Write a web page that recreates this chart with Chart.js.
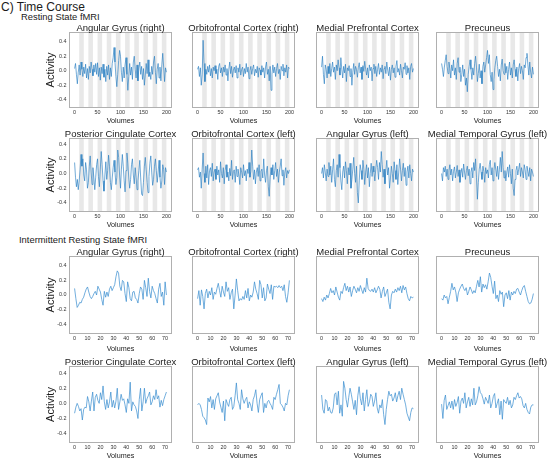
<!DOCTYPE html>
<html><head><meta charset="utf-8">
<script src="https://cdn.jsdelivr.net/npm/chart.js@4.4.0/dist/chart.umd.min.js"></script>
<style>
html,body{margin:0;padding:0;}
body{width:548px;height:459px;position:relative;background:#fff;overflow:hidden;font-family:"Liberation Sans",Arial,sans-serif;}
.hdr{position:absolute;white-space:nowrap;color:#1a1a1a;line-height:1;}
canvas{position:absolute;}
</style></head><body>
<div class="hdr" style="left:1px;top:1px;font-size:12px">C) Time Course</div>
<div class="hdr" style="left:21px;top:12px;font-size:9.4px">Resting State fMRI</div>
<div class="hdr" style="left:19px;top:235px;font-size:9.4px">Intermittent Resting State fMRI</div>
<script>
// ---------- titles & ticks ----------
const regionTitles = ['Angular Gyrus (right)', 'Orbitofrontal Cortex (right)', 'Medial Prefrontal Cortex', 'Precuneus',
  'Posterior Cingulate Cortex', 'Orbitofrontal Cortex (left)', 'Angular Gyrus (left)', 'Medial Temporal Gyrus (left)'];
const restXTicks = [0, 50, 100, 150, 200];
const intXTicks = [0, 10, 20, 30, 40, 50, 60, 70];
const yTicks = [-0.4, -0.2, 0.0, 0.2, 0.4];
const restStep = 2; // volumes between listed resting-state samples
const restBlocks = [[10,20],[30,40],[50,60],[70,80],[90,100],[110,120],[130,140],[150,160],[170,180],[190,200]];

// ---------- resting state series (volume 0..200, every 2nd volume) ----------
const restAngularRight = [
0.03,0.10,-0.05,-0.18,-0.02,0.08,-0.06,0.12,0.02,-0.08,
0.05,-0.04,0.09,-0.10,0.03,-0.12,0.06,-0.03,0.12,0.02,
-0.07,0.08,-0.02,0.10,-0.05,0.11,-0.08,0.04,-0.13,0.05,
-0.04,0.09,-0.09,0.02,-0.15,0.06,-0.06,0.08,-0.12,0.04,
-0.08,0.10,0.18,0.32,0.12,-0.08,-0.22,-0.05,0.14,0.28,
0.20,-0.02,-0.15,0.05,-0.10,0.08,0.18,-0.05,-0.27,-0.08,
0.10,-0.06,0.05,-0.12,0.12,0.20,0.02,-0.10,0.08,-0.14,
0.04,0.12,-0.05,0.06,-0.12,0.03,-0.20,-0.06,0.10,-0.04,
0.15,-0.08,-0.02,-0.12,0.06,-0.05,0.12,0.20,-0.02,-0.18,
0.02,0.10,-0.10,0.05,-0.14,0.08,0.24,0.05,-0.15,0.04,
-0.02];
const restOfcRight = [
0.02,0.06,-0.08,0.04,-0.20,-0.05,0.42,0.10,-0.15,0.02,
-0.05,0.06,-0.02,0.08,-0.07,0.03,-0.10,0.05,0.00,0.07,
-0.04,0.02,-0.12,0.06,0.10,-0.03,0.04,-0.08,0.05,-0.02,
0.08,-0.06,0.03,-0.14,0.02,0.12,-0.04,0.06,-0.09,0.01,
0.05,-0.03,0.07,-0.10,0.04,-0.02,0.09,-0.06,0.02,0.05,
-0.08,0.03,-0.04,0.10,-0.02,0.05,-0.11,0.00,0.06,-0.05,
0.03,0.08,-0.07,0.02,-0.03,0.06,-0.09,0.04,0.01,-0.06,
0.07,-0.02,0.04,-0.10,0.05,0.12,-0.05,0.02,-0.14,0.06,
-0.27,-0.05,0.08,-0.03,0.05,-0.08,0.03,0.10,-0.04,0.02,
-0.12,0.06,0.00,0.09,-0.07,0.04,-0.02,0.08,-0.10,0.05,
0.03];
const restMpfc = [
0.05,0.20,-0.05,-0.18,0.08,0.02,-0.10,0.06,-0.04,0.10,
-0.08,0.03,0.12,-0.02,0.05,-0.12,0.08,0.00,0.15,0.04,
-0.06,0.18,0.02,-0.10,0.06,-0.03,0.09,-0.15,0.04,0.00,
0.07,-0.08,0.03,-0.20,-0.02,0.10,-0.05,0.06,0.02,-0.09,
0.04,0.11,-0.03,0.05,-0.12,0.07,-0.01,0.13,0.02,-0.06,
0.04,-0.10,0.08,0.00,0.05,-0.14,0.03,0.09,-0.04,0.06,
-0.08,0.02,0.10,-0.05,0.04,-0.02,0.08,-0.11,0.03,0.06,
-0.04,0.12,0.01,-0.07,0.05,-0.13,0.02,0.08,-0.03,0.04,
-0.09,0.06,0.14,-0.02,0.03,-0.06,0.09,0.00,-0.10,0.05,
0.02,0.11,-0.05,0.07,-0.03,0.04,-0.12,0.06,0.10,-0.02,
0.03];
const restPrecuneus = [
0.10,0.02,-0.08,0.05,0.14,0.22,0.06,-0.04,0.12,0.03,
-0.10,0.08,0.00,0.15,-0.06,0.04,-0.12,0.10,0.18,-0.02,
0.05,-0.15,-0.05,0.08,-0.08,0.02,-0.20,-0.10,-0.29,-0.05,
0.06,0.15,0.02,-0.12,0.04,-0.06,0.10,0.20,0.05,-0.15,
-0.04,0.09,-0.10,0.00,-0.18,0.06,0.12,-0.02,0.08,0.18,
0.28,0.10,0.22,-0.05,-0.15,-0.02,-0.26,-0.12,0.04,0.14,
0.20,0.06,-0.08,0.02,-0.14,0.08,0.16,0.00,-0.05,0.10,
-0.03,0.06,-0.12,0.02,0.12,-0.06,0.04,-0.10,0.08,0.15,
0.02,-0.08,0.05,-0.14,0.03,0.10,-0.04,0.06,0.00,-0.12,
0.08,0.04,0.18,0.24,0.08,-0.06,0.12,-0.02,-0.10,0.05,
-0.05];
const restPcc = [
0.15,-0.05,-0.18,-0.08,-0.22,-0.10,0.05,0.26,0.10,0.20,
-0.02,-0.10,0.15,0.05,-0.20,-0.12,0.10,0.24,0.02,-0.15,
0.08,-0.06,-0.22,-0.05,0.12,0.20,-0.04,-0.18,0.06,0.30,
0.12,-0.10,-0.24,-0.02,0.16,-0.08,0.04,0.25,0.10,-0.12,
-0.22,-0.06,0.08,0.18,0.02,-0.15,-0.05,0.32,0.22,-0.02,
-0.20,0.06,0.26,0.10,-0.10,-0.25,0.04,0.28,0.14,-0.06,
-0.20,-0.08,0.12,0.20,-0.02,-0.14,0.08,-0.05,-0.22,-0.10,
0.04,0.18,-0.06,-0.28,-0.30,-0.12,0.10,0.22,0.05,-0.12,
-0.26,-0.04,0.14,0.24,0.02,-0.16,-0.08,0.10,0.20,0.04,
-0.12,0.02,0.18,-0.05,-0.20,-0.10,0.12,0.06,-0.15,0.08,
0.02];
const restOfcLeft = [
0.05,0.08,-0.05,0.02,-0.20,0.06,0.28,0.00,-0.12,0.10,
-0.06,0.12,-0.15,0.04,0.08,-0.04,0.14,-0.10,0.02,0.06,
-0.08,0.10,-0.02,0.05,-0.12,0.16,0.00,-0.06,0.08,-0.14,
0.04,0.12,-0.05,0.02,-0.10,0.07,-0.03,0.18,-0.08,0.03,
0.05,-0.12,0.10,-0.04,0.06,-0.02,-0.15,0.08,0.02,-0.06,
0.12,-0.03,0.04,-0.10,0.06,0.00,0.15,-0.05,0.03,0.32,
0.10,-0.08,0.05,-0.14,0.02,0.08,-0.04,0.12,-0.10,0.03,
0.06,-0.06,0.20,-0.02,-0.12,0.04,0.10,-0.18,-0.31,-0.05,
0.08,-0.02,0.12,-0.08,0.04,0.15,-0.04,0.06,-0.12,0.02,
0.10,0.20,-0.03,0.05,-0.16,0.02,0.08,-0.06,0.04,0.00,
0.05];
const restAngularLeft = [
0.00,0.08,-0.06,0.12,0.02,-0.10,0.06,-0.04,0.15,-0.02,
0.10,-0.12,0.05,0.20,-0.08,-0.18,0.04,0.12,-0.05,0.26,
0.08,-0.10,-0.22,0.02,0.10,-0.06,0.16,0.04,-0.14,0.08,
-0.02,0.14,-0.20,-0.08,0.06,0.22,0.00,-0.12,0.10,-0.26,
-0.40,-0.10,0.12,0.04,-0.08,0.18,0.06,-0.15,0.02,0.12,
-0.06,0.08,-0.18,0.00,0.14,-0.04,0.10,0.02,-0.10,0.06,
0.18,0.08,-0.08,0.15,0.02,0.30,0.12,-0.05,0.06,-0.14,
0.04,0.18,-0.02,0.08,-0.20,-0.06,0.10,0.00,-0.12,0.16,
0.04,-0.08,0.12,-0.15,0.02,0.20,0.06,-0.10,0.04,0.14,
-0.04,0.08,-0.16,0.02,0.10,-0.06,0.12,0.00,-0.10,0.06,
0.02];
const restMtgLeft = [
0.00,-0.10,0.08,0.02,0.10,-0.04,0.06,-0.08,0.04,0.12,
-0.02,0.06,-0.10,0.03,0.09,-0.06,0.02,0.11,-0.04,0.05,
-0.12,0.00,0.07,-0.05,0.13,0.02,-0.08,0.04,0.10,-0.03,
0.06,-0.14,0.02,0.08,-0.06,0.15,0.04,0.20,-0.05,-0.35,
-0.12,0.06,0.14,0.02,-0.08,0.10,0.03,-0.12,0.08,0.00,
0.05,-0.06,0.12,0.18,-0.02,0.08,-0.10,0.04,0.15,0.06,
-0.04,0.10,-0.08,0.06,0.22,0.02,0.30,0.08,-0.06,0.04,
-0.10,0.02,0.09,-0.05,0.12,0.00,-0.14,0.06,-0.20,-0.30,
-0.08,0.04,0.10,-0.02,0.06,0.14,-0.04,0.08,0.02,-0.06,
0.12,0.05,-0.08,0.10,0.03,-0.04,0.08,-0.10,0.06,0.02,
-0.04];

// ---------- intermittent resting state series (volume 0..71) ----------
const intAngularRight = [
0.09,-0.05,-0.17,-0.14,-0.10,-0.11,-0.06,-0.03,0.03,0.08,
0.11,0.04,-0.02,-0.05,-0.02,0.02,0.05,0.00,0.12,0.08,
0.04,-0.06,-0.14,0.05,-0.03,0.04,-0.02,0.08,0.12,0.06,
0.10,0.14,0.25,0.33,0.30,0.12,0.06,0.20,0.18,0.02,
-0.09,0.18,0.10,-0.05,-0.08,0.04,0.05,-0.04,-0.06,-0.11,
0.02,0.11,0.08,-0.06,0.20,0.10,-0.02,0.23,0.05,-0.04,
0.12,0.06,0.02,-0.05,-0.11,0.08,0.16,-0.02,0.04,-0.14,
0.18,0.00];
const intOfcRight = [
-0.05,0.06,-0.14,0.07,-0.02,-0.19,0.02,0.08,-0.04,0.05,
0.00,0.10,-0.06,0.04,0.01,0.09,0.16,0.06,-0.03,0.12,
0.04,-0.02,0.18,0.05,0.10,-0.06,0.03,0.08,-0.19,0.00,
0.22,0.06,-0.08,-0.05,-0.07,-0.02,-0.06,0.06,-0.04,0.09,
-0.08,0.00,-0.03,0.04,0.18,0.08,0.02,-0.06,0.20,0.14,
-0.04,0.10,-0.08,-0.04,0.15,0.08,0.02,0.14,-0.06,0.12,
0.11,0.12,0.10,0.13,0.10,0.12,0.06,0.14,-0.02,-0.10,
0.03,0.20];
const intMpfc = [
-0.05,-0.09,-0.03,-0.07,0.00,-0.04,0.02,0.09,0.03,0.06,
0.00,0.11,0.04,-0.03,-0.07,0.05,0.02,0.10,0.16,0.06,
0.12,0.04,0.11,-0.02,0.06,0.12,0.08,0.03,0.10,0.05,
0.13,0.07,0.02,0.10,0.04,0.23,0.09,0.06,0.05,0.08,
0.04,0.10,0.03,0.07,0.12,0.08,-0.04,0.05,0.11,-0.02,
0.03,0.08,-0.10,-0.19,0.00,0.05,0.03,0.08,0.04,0.10,
0.06,0.12,0.03,0.13,0.07,0.11,0.02,-0.05,-0.08,-0.02,
-0.04,-0.03];
const intPrecuneus = [
-0.05,-0.07,0.00,-0.04,-0.02,-0.12,-0.03,0.05,0.16,0.07,
0.11,0.04,-0.09,0.03,0.08,0.12,0.15,0.09,0.06,0.10,
0.00,0.05,0.11,0.07,0.02,0.06,0.03,0.12,0.20,0.11,
0.25,0.04,0.15,0.10,0.14,0.08,0.18,0.30,0.24,0.12,
0.02,0.19,-0.05,0.00,-0.09,0.06,0.01,0.04,-0.16,0.00,
0.03,-0.05,0.06,-0.07,0.04,0.00,0.05,0.02,0.08,0.09,
0.04,0.00,0.06,0.11,0.13,0.05,-0.02,-0.09,-0.12,-0.11,
-0.06,0.02];
const intPcc = [
-0.13,-0.05,0.00,-0.04,-0.10,-0.07,-0.22,-0.08,-0.05,-0.06,
0.09,0.02,-0.10,0.03,0.15,-0.10,0.08,0.12,0.04,0.00,
0.14,0.05,0.23,0.02,-0.08,0.05,-0.06,0.02,0.15,-0.05,
0.04,-0.06,0.03,0.20,-0.08,0.02,0.12,0.04,0.06,-0.02,
-0.12,0.06,0.00,0.28,-0.10,0.02,-0.02,-0.04,-0.10,-0.20,
0.05,0.20,-0.10,0.02,0.20,0.00,0.06,0.10,0.15,-0.02,
0.02,0.10,0.05,0.18,0.06,0.10,-0.05,0.04,-0.03,0.05,
0.10,0.15];
const intOfcLeft = [
-0.02,0.00,-0.02,-0.08,-0.17,-0.19,-0.22,-0.28,0.07,0.02,
0.09,-0.06,0.05,-0.08,0.06,0.10,0.14,0.02,-0.05,-0.12,
0.03,-0.23,0.05,0.00,-0.04,0.05,0.08,-0.08,-0.04,0.10,
0.27,0.05,0.00,-0.08,0.18,0.06,0.00,0.05,0.08,-0.06,
0.02,-0.02,-0.10,0.05,0.10,0.18,0.00,-0.12,0.05,0.10,
0.14,-0.12,0.00,-0.06,0.02,0.04,0.00,-0.03,-0.08,0.08,
0.05,0.12,0.18,0.25,0.00,-0.02,-0.05,-0.10,0.00,-0.02,
0.10,0.18];
const intAngularLeft = [
0.11,-0.08,-0.13,0.05,0.03,-0.10,-0.05,-0.12,-0.13,-0.06,
0.12,0.14,-0.02,0.16,-0.13,-0.02,-0.17,0.29,0.20,0.05,
-0.05,0.08,0.20,0.12,0.02,-0.08,0.04,-0.15,0.10,0.22,
0.06,-0.02,0.14,-0.10,0.05,0.18,-0.04,0.02,0.12,0.09,
-0.04,0.03,0.14,-0.06,-0.13,-0.02,-0.06,0.05,-0.15,-0.28,
-0.08,0.05,0.16,0.10,0.12,0.03,0.07,0.14,0.02,0.10,
0.16,0.05,0.20,0.12,0.05,-0.02,-0.13,-0.18,-0.23,-0.12,
-0.06,-0.07];
const intMtgLeft = [
-0.01,-0.20,0.04,0.11,-0.08,-0.03,0.02,-0.06,0.03,-0.08,
0.05,-0.04,0.01,0.09,-0.13,0.03,0.07,0.00,0.14,-0.06,
0.02,0.08,-0.04,0.06,-0.02,0.20,-0.02,0.02,0.10,0.22,
0.14,0.12,0.06,-0.01,0.08,0.04,0.00,0.11,-0.06,0.00,
0.09,0.13,-0.06,0.00,0.06,-0.15,0.03,-0.21,0.05,0.02,
0.00,0.08,-0.02,0.04,-0.06,-0.02,0.08,0.05,0.10,0.14,
0.07,0.09,0.06,-0.03,-0.06,0.00,-0.08,-0.12,-0.14,-0.05,
-0.02,-0.02];

const restSeries = [restAngularRight, restOfcRight, restMpfc, restPrecuneus, restPcc, restOfcLeft, restAngularLeft, restMtgLeft];
const intSeries = [intAngularRight, intOfcRight, intMpfc, intPrecuneus, intPcc, intOfcLeft, intAngularLeft, intMtgLeft];

// ---------- layout ----------
const FONT = '"Liberation Sans", Arial, sans-serif';
Chart.defaults.font.family = FONT;
const colL = [70, 193, 317, 437], colR = [171, 294, 418, 538];
const rowT = [33, 139, 257, 367], rowB = [107, 211, 333, 442];
const rowYMin = [-0.50, -0.51, -0.52, -0.51], rowYMax = [0.52, 0.47, 0.52, 0.48];
const rowXH = [18, 18, 20, 18];
const TOP = 12;

function makeChart(r, c, title, values, isRest) {
  const leftExtra = c === 0 ? 45 : 14;
  const rightExtra = c === 3 ? 10 : 12;
  const pw = colR[c] - colL[c], ph = rowB[r] - rowT[r];
  const W = leftExtra + pw + rightExtra;
  const H = TOP + ph + rowXH[r];
  const cv = document.createElement('canvas');
  cv.width = W; cv.height = H;
  cv.style.left = (colL[c] - leftExtra) + 'px';
  cv.style.top = (rowT[r] - TOP) + 'px';
  cv.style.width = W + 'px'; cv.style.height = H + 'px';
  document.body.appendChild(cv);
  const pts = values.map((v, i) => ({x: isRest ? i * restStep : i, y: v}));
  const xt = isRest ? restXTicks : intXTicks;
  const plugins = [{
    id: 'bandsFrameTitle',
    beforeDatasetsDraw(chart) {
      if (!isRest) return;
      const {ctx, chartArea: a, scales: {x}} = chart;
      ctx.save();
      ctx.fillStyle = '#e8e8e8';
      for (const [s, e] of restBlocks) {
        const x1 = x.getPixelForValue(s), x2 = x.getPixelForValue(e);
        ctx.fillRect(x1, a.top, x2 - x1, a.bottom - a.top);
      }
      ctx.restore();
    },
    afterDatasetsDraw(chart) {
      const {ctx, chartArea: a} = chart;
      ctx.save();
      ctx.strokeStyle = '#b0b0b0';
      ctx.lineWidth = 1;
      ctx.strokeRect(a.left - 0.5, a.top - 0.5, a.right - a.left + 1, a.bottom - a.top + 1);
      ctx.font = '9.5px ' + FONT;
      ctx.fillStyle = '#1a1a1a';
      ctx.textAlign = 'center';
      ctx.textBaseline = 'alphabetic';
      ctx.fillText(title, (a.left + a.right) / 2, a.top - 2);
      ctx.restore();
    }
  }];
  new Chart(cv, {
    type: 'line',
    data: {datasets: [{data: pts, borderColor: isRest ? 'rgba(35,122,192,0.85)' : 'rgba(58,142,208,0.9)',
      borderWidth: isRest ? 0.75 : 0.8, pointRadius: 0, tension: 0, fill: false}]},
    options: {
      responsive: false, animation: false, devicePixelRatio: 1, parsing: false,
      layout: {padding: {left: c === 0 ? leftExtra - 30 : leftExtra, right: rightExtra, top: TOP, bottom: 0}},
      plugins: {legend: {display: false}, tooltip: {enabled: false}, title: {display: false}},
      scales: {
        x: {
          type: 'linear', min: isRest ? -10 : -3.55, max: isRest ? 210 : 74.55,
          grid: {display: false, drawTicks: false}, border: {display: false},
          afterBuildTicks: s => { s.ticks = xt.map(v => ({value: v})); },
          afterFit: s => { s.height = rowXH[r]; },
          ticks: {autoSkip: false, maxRotation: 0, padding: 2.5, color: '#333', font: {size: 5.4}, callback: v => String(v)},
          title: {display: true, text: 'Volumes', color: '#1a1a1a', font: {size: 7.2, lineHeight: 1.2}, padding: {top: 0, bottom: 0}}
        },
        y: {
          type: 'linear', min: rowYMin[r], max: rowYMax[r], display: c === 0,
          grid: {display: false, drawTicks: false}, border: {display: false},
          afterBuildTicks: s => { s.ticks = yTicks.map(v => ({value: v})); },
          afterFit: s => { if (c === 0) s.width = 30; },
          ticks: {padding: 3.5, color: '#333', font: {size: 5.4}, callback: v => v.toFixed(1)},
          title: {display: true, text: 'Activity', color: '#1a1a1a', font: {size: 11, lineHeight: 1.2}, padding: {top: 3.9, bottom: 0}}
        }
      }
    },
    plugins
  });
}

for (let i = 0; i < 8; i++) {
  makeChart(Math.floor(i / 4), i % 4, regionTitles[i], restSeries[i], true);
  makeChart(2 + Math.floor(i / 4), i % 4, regionTitles[i], intSeries[i], false);
}
</script>
</body></html>
